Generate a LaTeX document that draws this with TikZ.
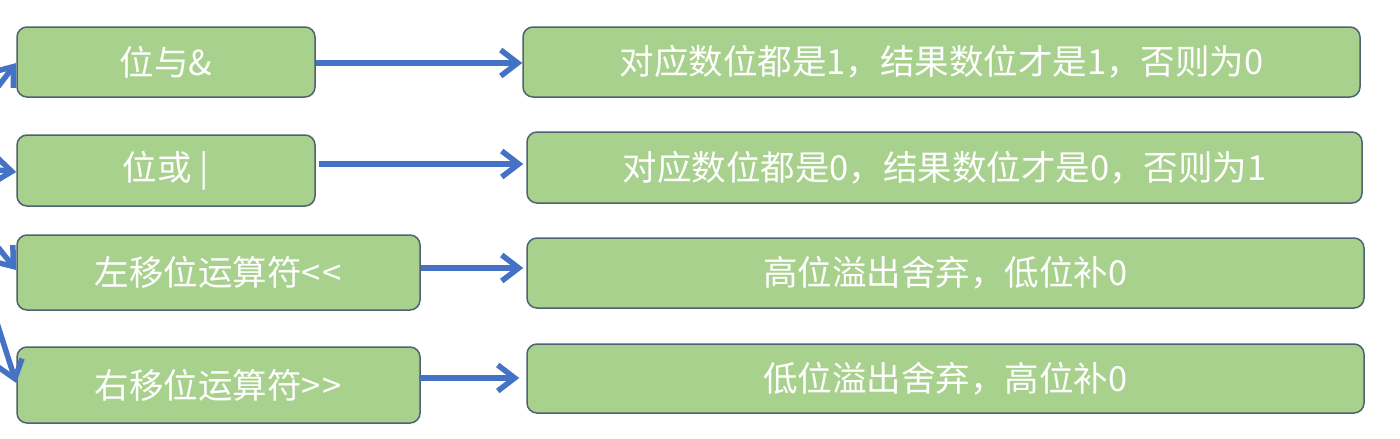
\documentclass[tikz,border=0pt]{standalone}
\usepackage{fontspec}
\setmainfont{Noto Sans CJK SC}[Ligatures=NoCommon]
\usetikzlibrary{arrows.meta}
\definecolor{boxfill}{HTML}{A9D18E}
\definecolor{boxline}{HTML}{4E6272}
\definecolor{arr}{HTML}{4472C4}
\tikzset{
  gbox/.style={draw=boxline, line width=1.5pt, fill=boxfill, rounded corners=10pt,
    text=white, font=\fontsize{34.5}{38}\selectfont, inner sep=0pt},
  conn/.style={draw=arr, line width=5.5pt, -{Straight Barb[length=17pt,width=26pt,line width=5.5pt]}},
}
\begin{document}
\begin{tikzpicture}[x=1pt,y=-1pt]
\useasboundingbox (0,0) rectangle (1400,439);
\begin{scope}
\clip (0,0) rectangle (1400,439);
% left boxes
\node[gbox, minimum width=298pt, minimum height=70pt] (l1) at (166,62) {位与\&};
\node[gbox, minimum width=298pt, minimum height=71pt] (l2) at (166,170.5) {位或 |};
\node[gbox, minimum width=403pt, minimum height=75pt] (l3) at (218.5,272.5) {左移位运算符{<}\kern2pt{<}};
\node[gbox, minimum width=403pt, minimum height=76pt] (l4) at (218.5,385) {右移位运算符{>}\kern2pt{>}};
% right boxes
\node[gbox, minimum width=837pt, minimum height=70pt] (r1) at (941.5,62) {对应数位都是1，结果数位才是1，否则为0};
\node[gbox, minimum width=835pt, minimum height=71pt] (r2) at (944.5,167.5) {对应数位都是0，结果数位才是0，否则为1};
\node[gbox, minimum width=837pt, minimum height=70pt] (r3) at (945.5,273) {高位溢出舍弃，低位补0};
\node[gbox, minimum width=837pt, minimum height=69pt] (r4) at (945.5,378.5) {低位溢出舍弃，高位补0};
% horizontal connectors
\draw[conn] (l1.east |- 0,63) -- (r1.west |- 0,63);
\draw[conn] ([xshift=3pt]l2.east |- 0,164) -- ([xshift=-3pt]r2.west |- 0,164);
\draw[conn] (l3.east |- 0,268) -- ([xshift=-3pt]r3.west |- 0,268);
\draw[conn] ([xshift=-2pt]l4.east |- 0,378) -- ([xshift=-7pt]r4.west |- 0,378);
% incoming connectors from off-picture source
\coordinate (s1) at (-20,110);
\coordinate (s2) at (-20,168);
\coordinate (s3) at (-20,225);
\coordinate (s4) at (-20,270);
\draw[conn] (s1) -- (l1.west |- 0,63);
\draw[conn] (s2) -- (l2.west |- 0,172);
\draw[conn] (s3) -- (l3.west |- 0,270);
\draw[conn] (s4) -- (l4.west |- 0,383);
\end{scope}
\end{tikzpicture}
\end{document}
